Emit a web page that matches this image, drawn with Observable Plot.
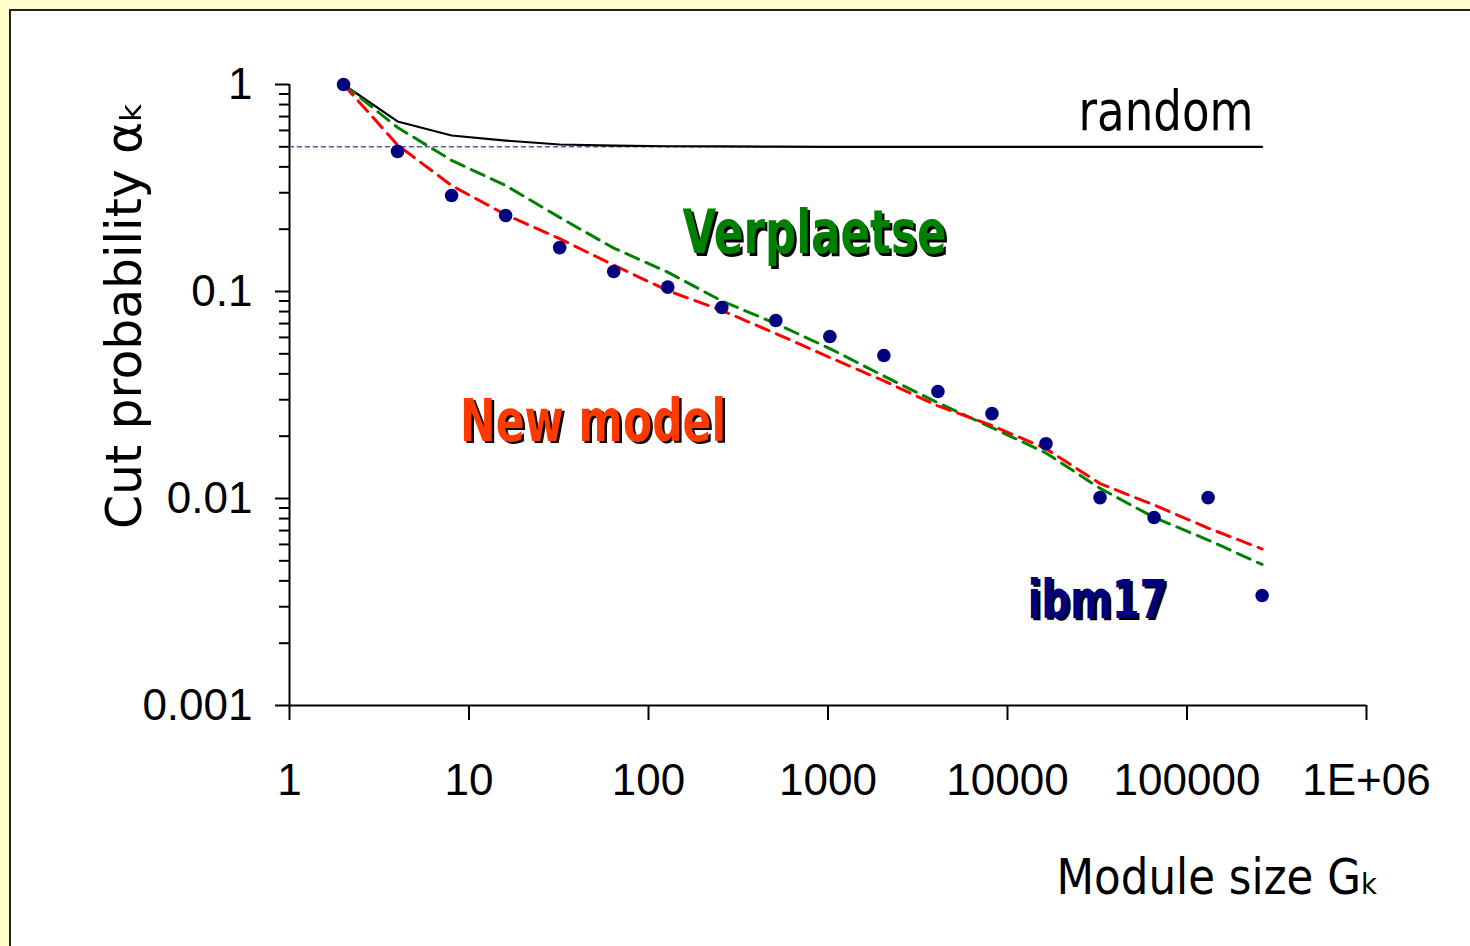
<!DOCTYPE html>
<html>
<head>
<meta charset="utf-8">
<script src="https://cdn.jsdelivr.net/npm/d3@7"></script>
<script src="https://cdn.jsdelivr.net/npm/@observablehq/plot@0.6"></script>
<style>
  html, body { margin: 0; padding: 0; background: #ffffcc; width: 1470px; height: 946px; overflow: hidden; }
  #frame { position: absolute; left: 9px; top: 9px; width: 1461px; height: 937px; background: #fff;
           border-top: 2px solid #222; border-left: 2px solid #222; box-sizing: border-box; }
  #chart { position: absolute; left: 0; top: 0; }
  #chart svg { display: block; }
</style>
</head>
<body>
<div id="frame"><div id="chart"></div></div>
<script>
// ---- data ----
const sizes = [2, 4, 8, 16, 32, 64, 128, 256, 512, 1024, 2048, 4096, 8192, 16384, 32768, 65536, 131072, 262144];
const ibm17 = [1, 0.475, 0.291, 0.233, 0.163, 0.125, 0.105, 0.0837, 0.0724, 0.0606, 0.0491, 0.0329, 0.0257, 0.0184, 0.0101, 0.0081, 0.0101, 0.0034];
const newModel = [1, 0.51, 0.325, 0.235, 0.18, 0.134, 0.101, 0.081, 0.0626, 0.048, 0.037, 0.028, 0.0225, 0.0174, 0.0118, 0.0093, 0.0072, 0.0057];
const verplaetse = [1, 0.62, 0.43, 0.325, 0.228, 0.162, 0.124, 0.090, 0.070, 0.053, 0.039, 0.029, 0.022, 0.0166, 0.0112, 0.0081, 0.0063, 0.0048];
const randomCut = [1, 0.663, 0.567, 0.536, 0.513, 0.507, 0.503, 0.502, 0.501, 0.5, 0.5, 0.5, 0.5, 0.5, 0.5, 0.5, 0.5, 0.5];
const halfX = [1, 16384];
const halfY = [0.5, 0.5];

const xDomain = [1, 1000000];
const yDomain = [0.001, 1];
const xTicks = [1, 10, 100, 1000, 10000, 100000, 1000000];
const xTickLabels = ["1", "10", "100", "1000", "10000", "100000", "1E+06"];
const yTicks = [0.001, 0.01, 0.1, 1];
const yTickLabels = ["0.001", "0.01", "0.1", "1"];
const yMinorTicks = [0.002, 0.003, 0.004, 0.005, 0.006, 0.007, 0.008, 0.009,
                     0.02, 0.03, 0.04, 0.05, 0.06, 0.07, 0.08, 0.09,
                     0.2, 0.3, 0.4, 0.5, 0.6, 0.7, 0.8, 0.9];

const labelText = ["random", "Verplaetse", "New model", "ibm17"];
const labelX = [76400, 841, 49.1, 31700];
const labelY = [0.606, 0.1527, 0.01906, 0.00266];

const xTitle = "Module size G\u2096";
const yTitle = "Cut probability \u03b1\u2096";

// ---- build ----
const rows = sizes.map((s, i) => ({size: s, ibm: ibm17[i], nm: newModel[i], vp: verplaetse[i], rnd: randomCut[i]}));
const half = halfX.map((x, i) => ({x, y: halfY[i]}));
const xLab = new Map(xTicks.map((t, i) => [t, xTickLabels[i]]));
const yLab = new Map(yTicks.map((t, i) => [t, yTickLabels[i]]));

const TICKFONT = "'Liberation Sans', Arial, sans-serif";
const TEXTFONT = "'DejaVu Sans', sans-serif";

function label(i, fill, opts) {
  return Plot.text([i], {
    x: d => labelX[d], y: d => labelY[d], text: d => labelText[d],
    fill, textAnchor: "middle", lineAnchor: "bottom", fontFamily: TEXTFONT, ...opts
  });
}

const chart = Plot.plot({
  width: 1459, height: 935,
  marginLeft: 278, marginRight: 104, marginTop: 73, marginBottom: 241,
  x: {type: "log", domain: xDomain},
  y: {type: "log", domain: yDomain},
  style: {fontFamily: TICKFONT, background: "white", color: "black", overflow: "visible"},
  marks: [
    Plot.axisY(yMinorTicks, {anchor: "left", tickSize: 10, tickFormat: () => "", strokeWidth: 2, label: null}),
    Plot.axisY(yTicks, {anchor: "left", tickSize: 14, tickPadding: 23, tickFormat: d => yLab.get(d),
                        fontSize: 44, strokeWidth: 2, label: null, fontFamily: TICKFONT}),
    Plot.axisX(xTicks, {anchor: "bottom", tickSize: 15, tickPadding: 43, tickFormat: d => xLab.get(d),
                        fontSize: 44, strokeWidth: 2, label: null, fontFamily: TICKFONT}),
    Plot.ruleX([xDomain[0]], {stroke: "black", strokeWidth: 2}),
    Plot.ruleY([yDomain[0]], {stroke: "black", strokeWidth: 2}),
    Plot.line(half, {x: "x", y: "y", stroke: "#5b5b99", strokeWidth: 1.6, strokeDasharray: "4,4"}),
    Plot.line(rows, {x: "size", y: "rnd", stroke: "black", strokeWidth: 2.2}),
    Plot.line(rows, {x: "size", y: "vp", stroke: "#008000", strokeWidth: 3, strokeDasharray: "14,8"}),
    Plot.line(rows, {x: "size", y: "nm", stroke: "#ff0000", strokeWidth: 3, strokeDasharray: "14,8"}),
    Plot.dot(rows, {x: "size", y: "ibm", r: 6.8, fill: "#000080", stroke: "none"}),
    label(0, "black", {fontSize: 55}),
    label(1, "black", {fontSize: 60, fontWeight: "bold", dx: 2.5, dy: 2.5}),
    label(1, "#008000", {fontSize: 60, fontWeight: "bold"}),
    label(2, "black", {fontSize: 58, fontWeight: "bold", dx: 2.5, dy: 2.5}),
    label(2, "#ff3a00", {fontSize: 58, fontWeight: "bold"}),
    label(3, "black", {fontSize: 54, fontWeight: "bold", dx: 2.5, dy: 2.5}),
    label(3, "#000080", {fontSize: 54, fontWeight: "bold"}),
    Plot.text([yTitle], {frameAnchor: "left", rotate: -90, textAnchor: "middle", lineAnchor: "bottom",
                         dx: -149, dy: -80, fontSize: 50, fontFamily: TEXTFONT, fill: "black"}),
    Plot.text([xTitle], {frameAnchor: "bottom", textAnchor: "middle", lineAnchor: "bottom",
                         dx: 390, dy: 188, fontSize: 50, fontFamily: TEXTFONT, fill: "black"})
  ]
});

document.getElementById("chart").appendChild(chart);

// fit annotation widths to the reference
const fits = new Map([["random", 175], ["Verplaetse", 264], ["New model", 266], ["ibm17", 140],
                      [yTitle, 428], [xTitle, 323]]);
d3.select(chart).selectAll("text").each(function () {
  const len = fits.get(this.textContent);
  if (len) { this.setAttribute("textLength", len); this.setAttribute("lengthAdjust", "spacingAndGlyphs"); }
});
</script>
</body>
</html>
